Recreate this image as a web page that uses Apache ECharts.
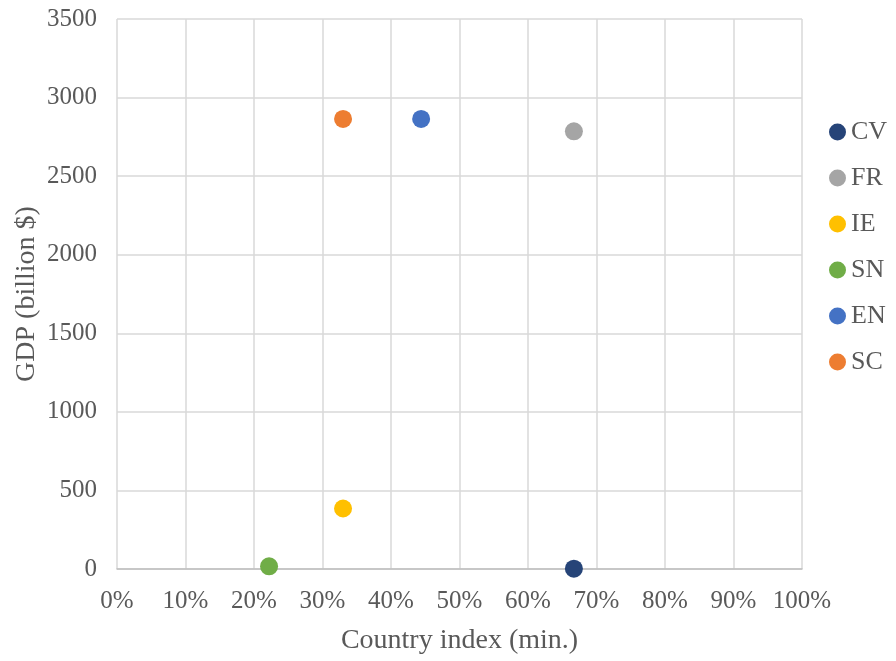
<!DOCTYPE html>
<html>
<head>
<meta charset="utf-8">
<script src="https://cdn.jsdelivr.net/npm/echarts@6/dist/echarts.min.js"></script>
<style>html,body{margin:0;padding:0;background:#fff}#c{width:896px;height:661px}</style>
</head>
<body>
<div id="c"></div>
<script>
const countries = ['CV', 'FR', 'IE', 'SN', 'EN', 'SC'];
const countryIndex = [0.667, 0.667, 0.33, 0.222, 0.444, 0.33];
const gdp = [2, 2785, 385, 17, 2864, 2864];
const colors = ['#264478', '#A5A5A5', '#FFC000', '#70AD47', '#4472C4', '#ED7D31'];

const FONT = '"Liberation Serif", "Times New Roman", serif';
const TXT = '#595959';

const chart = echarts.init(document.getElementById('c'), null, {renderer: 'canvas'});
chart.setOption({
  animation: false,
  textStyle: {fontFamily: FONT},
  grid: {left: 117, right: 94, top: 19, bottom: 92},
  legend: {
    orient: 'vertical',
    left: 824,
    top: 114,
    icon: 'circle',
    itemWidth: 17,
    itemHeight: 17,
    itemGap: 20,
    data: countries,
    textStyle: {fontFamily: FONT, fontSize: 26, color: TXT}
  },
  xAxis: {
    type: 'value',
    min: 0, max: 1, interval: 0.1,
    name: 'Country index (min.)',
    nameLocation: 'middle',
    nameGap: 58,
    nameMoveOverlap: false,
    nameTextStyle: {fontFamily: FONT, fontSize: 28, color: TXT},
    axisLine: {show: true, lineStyle: {color: '#bfbfbf', width: 1.5}},
    axisTick: {show: false},
    axisLabel: {fontFamily: FONT, fontSize: 25, color: TXT, margin: 20,
      formatter: v => Math.round(v * 100) + '%'},
    splitLine: {show: true, lineStyle: {color: '#d9d9d9', width: 1.5}}
  },
  yAxis: {
    type: 'value',
    min: 0, max: 3500, interval: 500,
    name: 'GDP (billion $)',
    nameLocation: 'middle',
    nameGap: 76,
    nameMoveOverlap: false,
    nameTextStyle: {fontFamily: FONT, fontSize: 28, color: TXT},
    axisLine: {show: false},
    axisTick: {show: false},
    axisLabel: {fontFamily: FONT, fontSize: 25, color: TXT, margin: 20,
      formatter: v => String(v)},
    splitLine: {show: true, lineStyle: {color: '#d9d9d9', width: 1.5}}
  },
  series: countries.map((c, i) => ({
    name: c,
    type: 'scatter',
    symbol: 'circle',
    symbolSize: 18,
    itemStyle: {color: colors[i], opacity: 1},
    data: [[countryIndex[i], gdp[i]]],
    z: 5
  }))
});
</script>
</body>
</html>
